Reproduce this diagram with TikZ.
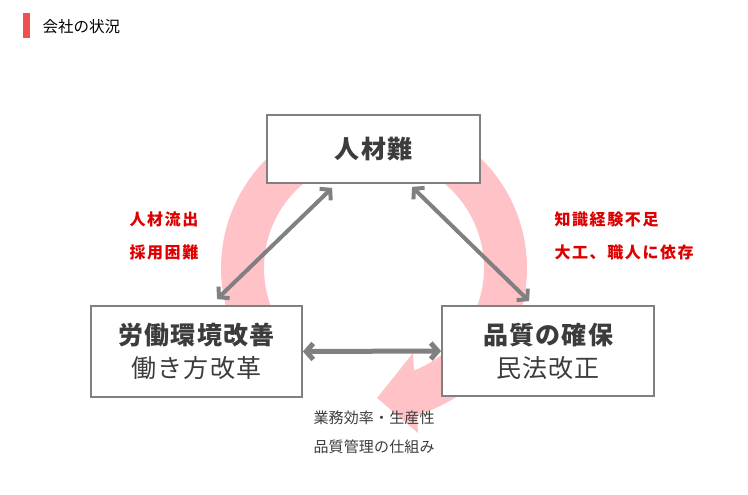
\documentclass[tikz,border=0pt]{standalone}
\usepackage{fontspec}
\setmainfont{Noto Sans CJK JP}
\newfontfamily\jpgros{Noto Sans CJK JP}[LetterSpace=5]
\newfontfamily\jpnote{Noto Sans CJK JP}[LetterSpace=10]
\newfontfamily\jppetit{Noto Sans CJK JP}[LetterSpace=1]
\usetikzlibrary{positioning,arrows.meta,calc}

\definecolor{rose}{RGB}{255,194,198}
\definecolor{gris}{RGB}{128,128,128}
\definecolor{encre}{RGB}{60,60,60}
\definecolor{rouge}{RGB}{222,0,0}
\definecolor{barre}{RGB}{240,80,80}

\begin{document}
\begin{tikzpicture}[
      x=1pt, y=-1pt,
      bloc/.style={
        draw=gris,
        line width=1.8pt,
        fill=white,
        text=encre,
        align=center,
        font=\fontsize{25}{33}\selectfont\jpgros
      },
      lien/.style={
        {Straight Barb[length=7pt,width=16pt]}-{Straight Barb[length=7pt,width=16pt]},
        draw=gris,
        line width=4pt
      },
      note/.style={
        anchor=west,
        text=rouge,
        font=\fontsize{16}{16}\selectfont\jpnote\bfseries
      },
      petit/.style={
        anchor=west,
        text=encre,
        font=\fontsize{15}{15}\selectfont\jppetit
      }
    ]
    \useasboundingbox (0,0) rectangle (748,495);

    % titre
    \fill[barre] (23,13) rectangle (30,38);
    \node[anchor=west, font=\fontsize{15.5}{15.5}\selectfont] (titre) at (39,27) {会社の状況};

    % cercle rose
    \coordinate (centre) at (374,268);
    \fill[rose] (centre) ++(150:153) arc[start angle=150, end angle=433.7, radius=153]
       -- (418,433) -- (377,398) -- (413,353)
       -- ($(centre)+(428.7:110)$) arc[start angle=428.7, end angle=150, radius=110] -- cycle;

    \node[bloc, minimum width=213pt, minimum height=68pt] (haut) at (373.5,149) {\bfseries 人材難};
    \node[bloc, minimum width=211pt, minimum height=91pt] (gauche) at (196.5,351.5) {{\bfseries 労働環境改善}\\働き方改革};
    \node[bloc, minimum width=212pt, minimum height=90pt] (droite) at (548,351) {{\bfseries 品質の確保}\\民法改正};

    \node[note] (n1) at (126,219) {人材流出};
    \node[note] (n2) at (126,252) {採用困難};
    \node[note] (n3) at (551,219) {知識経験不足};
    \node[note] (n4) at (551,252) {大工、職人に依存};

    \node[petit] (p1) at (310,418) {業務効率・生産性};
    \node[petit] (p2) at (310,447) {品質管理の仕組み};

    \draw[lien] ([shift={(66,4)}]haut.south west) -- ([shift={(127,-6)}]gauche.north west);
    \draw[lien] ([shift={(146,3)}]haut.south west) -- ([shift={(88,-4)}]droite.north west);
    \draw[lien, line width=5pt] (gauche.east) -- (droite.west);
  \end{tikzpicture}
\end{document}
